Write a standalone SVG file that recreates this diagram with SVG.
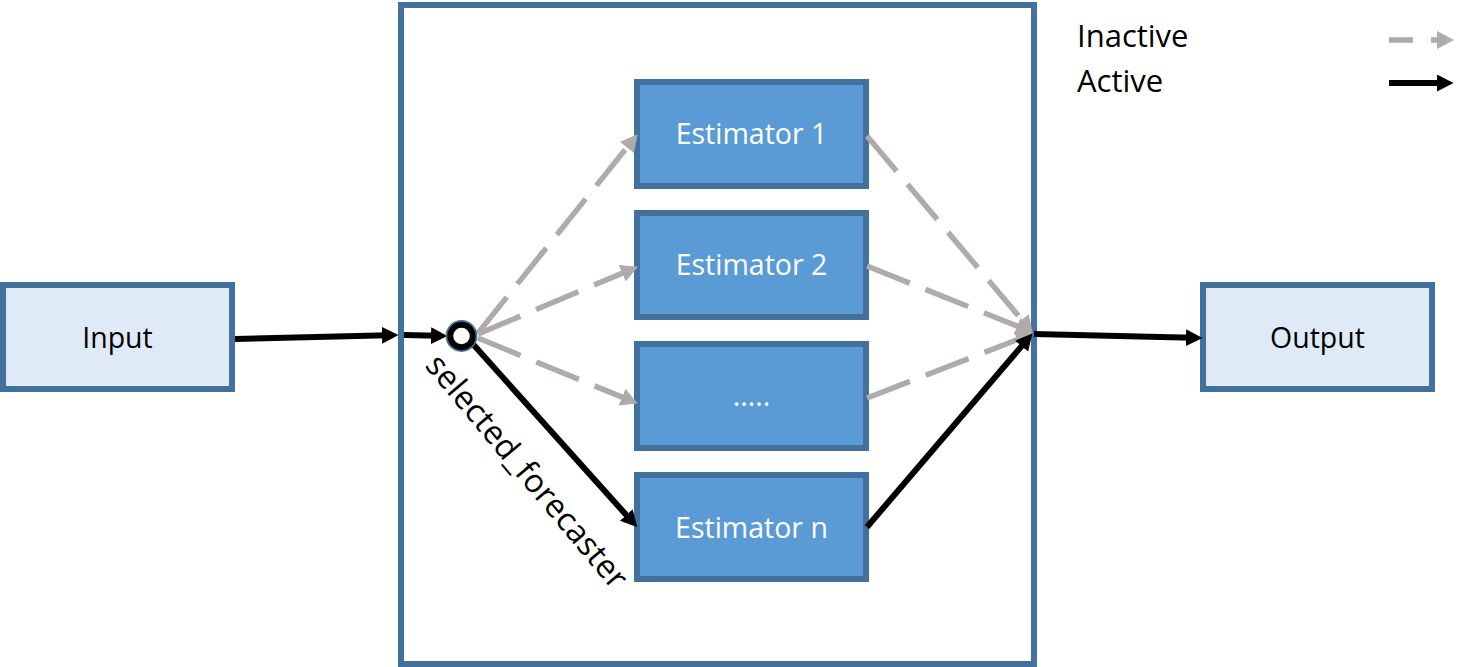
<svg xmlns="http://www.w3.org/2000/svg" width="1480" height="667" viewBox="0 0 1480 667">
<style>
.box{stroke:#41719c;stroke-width:6}
.io{fill:#deebf7}
.est{fill:#5b9bd5}
.t{font-family:"Open Sans","Liberation Sans",sans-serif;font-size:28.5px;text-anchor:middle}
.w{fill:#ffffff}
.k{fill:#000000}
.act{stroke:#000;stroke-width:6;fill:none}
.ina{stroke:#afabab;stroke-width:5.5;fill:none;stroke-dasharray:46 17}
.lg{font-family:"Open Sans","Liberation Sans",sans-serif;font-size:31px;fill:#000}
</style>
<defs>
<marker id="ab" markerUnits="userSpaceOnUse" markerWidth="18" markerHeight="18" refX="6" refY="8.5" orient="auto" viewBox="0 0 18 18">
<path d="M0,0 L16.5,8.5 L0,17 z" fill="#000"/>
</marker>
<marker id="ag" markerUnits="userSpaceOnUse" markerWidth="20" markerHeight="20" refX="6" refY="9" orient="auto" viewBox="0 0 20 20">
<path d="M0,0 L17,9 L0,18 z" fill="#afabab"/>
</marker>
</defs>
<rect width="1480" height="667" fill="#fff"/>
<g id="container">
<rect class="box" x="401" y="5" width="633" height="659" fill="#fff"/>
</g>
<g id="input">
<rect class="box io" x="3" y="285" width="229" height="104"/>
<text class="t k" x="117.5" y="348">Input</text>
</g>
<g id="output">
<rect class="box io" x="1203" y="285" width="229" height="104"/>
<text class="t k" x="1317.5" y="348">Output</text>
</g>
<g id="estimator1">
<rect class="box est" x="637" y="82" width="229" height="104"/>
<text class="t w" x="751.5" y="144">Estimator 1</text>
</g>
<g id="estimator2">
<rect class="box est" x="637" y="213" width="229" height="104"/>
<text class="t w" x="751.5" y="275">Estimator 2</text>
</g>
<g id="estimator_dots">
<rect class="box est" x="637" y="344" width="229" height="104"/>
<text class="t w" x="751.5" y="406">.....</text>
</g>
<g id="estimatorn">
<rect class="box est" x="637" y="475" width="229" height="104"/>
<text class="t w" x="751.5" y="538">Estimator n</text>
</g>
<g id="connectors">
<line class="act" x1="235" y1="339" x2="388" y2="335.2" marker-end="url(#ab)"/>
<line class="act" x1="404" y1="335" x2="437" y2="335.8" marker-end="url(#ab)"/>
<line class="ina" x1="478" y1="333" x2="630.7" y2="142.8" marker-end="url(#ag)"/>
<line class="ina" x1="478" y1="334" x2="627.8" y2="270.9" marker-end="url(#ag)"/>
<line class="ina" x1="478" y1="338" x2="627.6" y2="399.4" marker-end="url(#ag)"/>
<line class="act" x1="472" y1="343" x2="630.3" y2="519.5" marker-end="url(#ab)"/>
<line class="ina" x1="867" y1="136" x2="1025.6" y2="324.4" marker-end="url(#ag)"/>
<line class="ina" x1="867" y1="266" x2="1022.7" y2="328.3" marker-end="url(#ag)"/>
<line class="ina" x1="867" y1="398" x2="1022.7" y2="337.6" marker-end="url(#ag)"/>
<line class="act" x1="867" y1="527" x2="1025.5" y2="341.6" marker-end="url(#ab)"/>
<line class="act" x1="1034" y1="334" x2="1192" y2="337.8" marker-end="url(#ab)"/>
</g>
<g id="selector">
<circle cx="461.5" cy="336" r="15" fill="none" stroke="#41719c" stroke-width="1.8"/>
<circle cx="461.5" cy="336" r="11.3" fill="#fff" stroke="#000" stroke-width="6"/>
<text class="lg" style="font-size:32.5px" transform="translate(424,366) rotate(50)">selected_forecaster</text>
</g>
<g id="legend">
<text class="lg" x="1077" y="47">Inactive</text>
<text class="lg" x="1077" y="92">Active</text>
<line x1="1389" y1="40" x2="1413" y2="40" stroke="#afabab" stroke-width="5.5"/>
<line x1="1431" y1="40" x2="1443" y2="40" stroke="#afabab" stroke-width="5.5" marker-end="url(#ag)"/>
<line x1="1389" y1="83" x2="1443" y2="83" stroke="#000" stroke-width="6" marker-end="url(#ab)"/>
</g>
</svg>
